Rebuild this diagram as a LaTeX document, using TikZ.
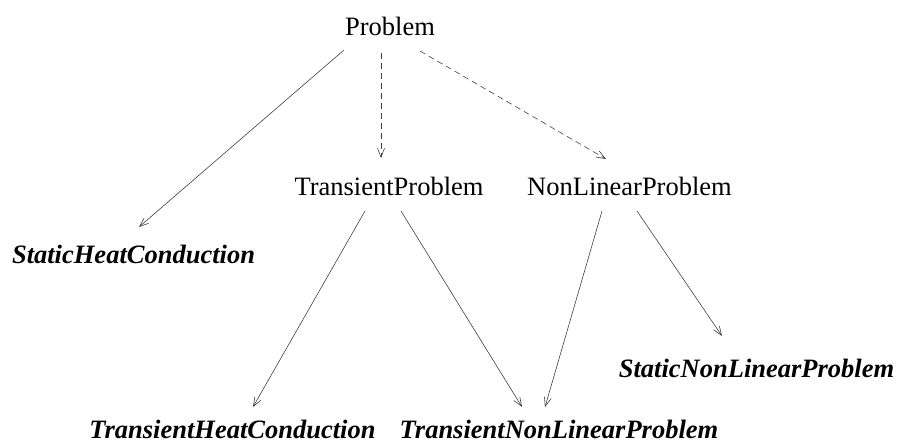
\documentclass[tikz,border=0pt]{standalone}
\usepackage{fontspec}
\setmainfont{Liberation Serif}
\usetikzlibrary{arrows.meta,calc}
\tikzset{
  cls/.style={inner sep=0pt, anchor=base, font=\fontsize{26.5}{30}\selectfont},
  leaf/.style={cls, font=\fontsize{26.5}{30}\selectfont\bfseries\itshape},
  inh/.style={draw=black!75, line width=0.6pt, -{Straight Barb[length=9pt,width=7pt,line width=0.6pt]}},
  iface/.style={inh, dash pattern=on 6pt off 4pt}
}
\begin{document}
\begin{tikzpicture}[x=1pt,y=1pt]
\useasboundingbox (0,0) rectangle (897,-445);
\node[cls]  (P)    at (390,-35)    {Problem};
\node[cls]  (TP)   at (389,-195)   {TransientProblem};
\node[cls]  (NLP)  at (629.5,-195) {NonLinearProblem};
\node[leaf] (SHC)  at (133.5,-263) {StaticHeatConduction};
\node[leaf] (SNLP) at (756.5,-377) {StaticNonLinearProblem};
\node[leaf] (THC)  at (232.5,-438) {TransientHeatConduction};
\node[leaf] (TNLP) at (559,-438)   {TransientNonLinearProblem};

\draw[inh]   ($(P.base)+(-46,-15)$)    -- ($(SHC.base)+(5.5,36)$);
\draw[iface] ($(P.base)+(-9,-18)$)     -- ($(TP.base)+(-8,37)$);
\draw[iface] ($(P.base)+(30,-16)$)     -- ($(NLP.base)+(-23.5,36)$);
\draw[inh]   ($(TP.base)+(-24,-16)$)   -- ($(THC.base)+(20.5,31)$);
\draw[inh]   ($(TP.base)+(12,-16)$)    -- ($(TNLP.base)+(-37,31)$);
\draw[inh]   ($(NLP.base)+(-27.5,-16)$) -- ($(TNLP.base)+(-14,31)$);
\draw[inh]   ($(NLP.base)+(7.5,-16)$)  -- ($(SNLP.base)+(-34.5,41)$);
\end{tikzpicture}
\end{document}
